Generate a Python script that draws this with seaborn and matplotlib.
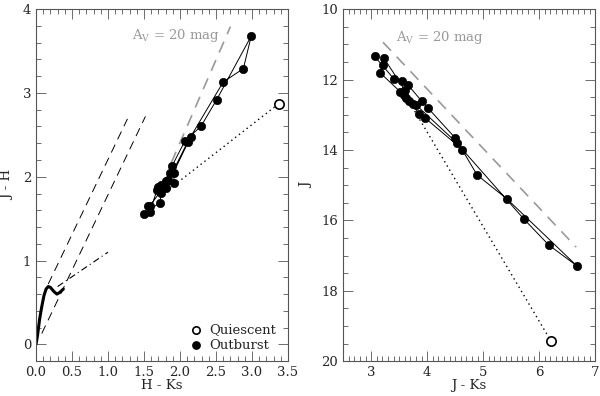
import numpy as np
import pandas as pd
import seaborn as sns
import matplotlib.pyplot as plt
from matplotlib.ticker import MultipleLocator

# outburst epochs, in observing order
hk = [1.50, 1.72, 1.74, 1.80, 1.86, 1.89, 2.07, 2.29, 2.51, 2.99, 2.88, 2.60, 2.15,
      1.91, 1.92, 1.80, 1.75, 1.58, 1.56, 1.58, 1.68, 1.70, 1.73, 1.78, 1.84, 2.11]
jh = [1.56, 1.69, 1.81, 1.86, 2.04, 2.13, 2.43, 2.60, 2.92, 3.68, 3.29, 3.13, 2.48,
      2.05, 1.93, 1.95, 1.85, 1.65, 1.65, 1.58, 1.84, 1.88, 1.90, 1.90, 1.96, 2.42]
jmag = [11.34, 11.99, 12.03, 12.16, 12.61, 12.82, 13.66, 14.71, 15.40, 17.29, 16.70, 15.97, 13.99,
        13.09, 12.99, 12.70, 12.30, 11.40, 11.60, 11.81, 12.35, 12.45, 12.52, 12.60, 12.72, 13.80]

# quiescent point
q_hk, q_jh, q_j, q_jk = 3.37, 2.87, 19.43, 6.21

# intrinsic colour locus (thick curve)
ms_hk = [0.00, 0.02, 0.05, 0.08, 0.11, 0.14, 0.17, 0.20, 0.25, 0.29, 0.33, 0.38]
ms_jh = [0.00, 0.10, 0.30, 0.45, 0.58, 0.66, 0.69, 0.68, 0.63, 0.60, 0.62, 0.66]

# CTTS locus (dash-dot)
ctts_hk = [0.30, 1.00]
ctts_jh = [0.69, 1.10]

# reddening bands (black dashed)
red1_hk, red1_jh = [0.17, 1.27], [0.72, 2.69]
red2_hk, red2_jh = [0.08, 1.52], [0.13, 2.72]

# Av = 20 mag vectors (grey dashed)
av_hk, av_jh = [1.88, 2.70], [2.17, 3.79]
av_jk, av_j = [3.21, 6.66], [10.94, 16.76]

# dotted connections from quiescent
dot_hk, dot_jh = [3.37, 1.86], [2.87, 1.86]
dot_jk, dot_j = [6.21, 3.60], [19.43, 12.42]

df = pd.DataFrame({"hk": hk, "jh": jh, "J": jmag})
df["jk"] = df["hk"] + df["jh"]

sns.set_style("ticks")
plt.rcParams["font.family"] = ["DejaVu Serif"]
plt.rcParams["mathtext.fontset"] = "dejavuserif"

fig = plt.figure(figsize=(6, 3.96), dpi=100)
ax1 = fig.add_axes([0.06, 0.088, 0.42, 0.889])
ax2 = fig.add_axes([0.572, 0.088, 0.42, 0.889])

grey = "#999999"
fs = 9.5

# ---- left: colour-colour
sns.lineplot(x=ms_hk, y=ms_jh, ax=ax1, color="black", lw=2.2, sort=False, estimator=None)
sns.lineplot(x=ctts_hk, y=ctts_jh, ax=ax1, color="black", lw=0.8)
ax1.lines[-1].set_dashes((6, 3, 1, 3))
for xs, ys in [(red1_hk, red1_jh), (red2_hk, red2_jh)]:
    sns.lineplot(x=xs, y=ys, ax=ax1, color="black", lw=0.7)
    ax1.lines[-1].set_dashes((9, 6))
sns.lineplot(x=av_hk, y=av_jh, ax=ax1, color=grey, lw=1.2)
ax1.lines[-1].set_dashes((7, 5))
sns.lineplot(x=dot_hk, y=dot_jh, ax=ax1, color="black", lw=1.0)
ax1.lines[-1].set_dashes((1, 2.5))
sns.lineplot(data=df, x="hk", y="jh", ax=ax1, color="black", lw=0.7, sort=False, estimator=None)
sns.scatterplot(data=df, x="hk", y="jh", ax=ax1, color="black", s=36, edgecolor="black", zorder=5)
ax1.scatter([q_hk], [q_jh], s=45, facecolor="white", edgecolor="black", lw=1.2, zorder=5)
ax1.text(1.95, 3.69, r"A$_\mathrm{V}$ = 20 mag", color=grey, fontsize=fs, ha="center", va="center")

h_q = ax1.scatter([], [], s=28, facecolor="white", edgecolor="black", lw=1.2)
h_o = ax1.scatter([], [], s=28, facecolor="black", edgecolor="black")
ax1.legend([h_q, h_o], ["Quiescent", "Outburst"], loc="lower right", frameon=False,
           fontsize=fs, handletextpad=0.0, borderaxespad=0.3, labelspacing=0.2,
           bbox_to_anchor=(0.99, 0.0))

ax1.set_xlim(0, 3.5)
ax1.set_ylim(-0.2, 4)
ax1.xaxis.set_major_locator(MultipleLocator(0.5))
ax1.xaxis.set_minor_locator(MultipleLocator(0.1))
ax1.yaxis.set_major_locator(MultipleLocator(1))
ax1.yaxis.set_minor_locator(MultipleLocator(0.2))
ax1.set_xticks(np.arange(0, 3.51, 0.5))
ax1.set_xticklabels([f"{v:.1f}" for v in np.arange(0, 3.51, 0.5)])
ax1.set_xlabel("H - Ks", fontsize=fs, labelpad=0)
ax1.set_ylabel("J - H", fontsize=fs, labelpad=6)

# ---- right: colour-magnitude
sns.lineplot(x=av_jk, y=av_j, ax=ax2, color=grey, lw=1.2)
ax2.lines[-1].set_dashes((7, 5))
sns.lineplot(x=dot_jk, y=dot_j, ax=ax2, color="black", lw=1.0)
ax2.lines[-1].set_dashes((1, 2.5))
sns.lineplot(data=df, x="jk", y="J", ax=ax2, color="black", lw=0.7, sort=False, estimator=None)
sns.scatterplot(data=df, x="jk", y="J", ax=ax2, color="black", s=36, edgecolor="black", zorder=5)
ax2.scatter([q_jk], [q_j], s=45, facecolor="white", edgecolor="black", lw=1.2, zorder=5)
ax2.text(4.23, 10.8, r"A$_\mathrm{V}$ = 20 mag", color=grey, fontsize=fs, ha="center", va="center")

ax2.set_xlim(2.5, 7)
ax2.set_ylim(20, 10)
ax2.xaxis.set_major_locator(MultipleLocator(1))
ax2.xaxis.set_minor_locator(MultipleLocator(0.1))
ax2.yaxis.set_major_locator(MultipleLocator(2))
ax2.yaxis.set_minor_locator(MultipleLocator(0.5))
ax2.set_xlabel("J - Ks", fontsize=fs, labelpad=0)
ax2.set_ylabel("J", fontsize=fs, labelpad=6)

for ax in (ax1, ax2):
    for s in ax.spines.values():
        s.set_linewidth(0.8)
        s.set_color("#555555")
    ax.tick_params(which="both", direction="in", top=True, right=True, labelsize=fs,
                   color="#555555", width=0.6)
    ax.tick_params(which="major", length=7)
    ax.tick_params(which="minor", length=3.5)

fig.savefig("out.png", dpi=100)
